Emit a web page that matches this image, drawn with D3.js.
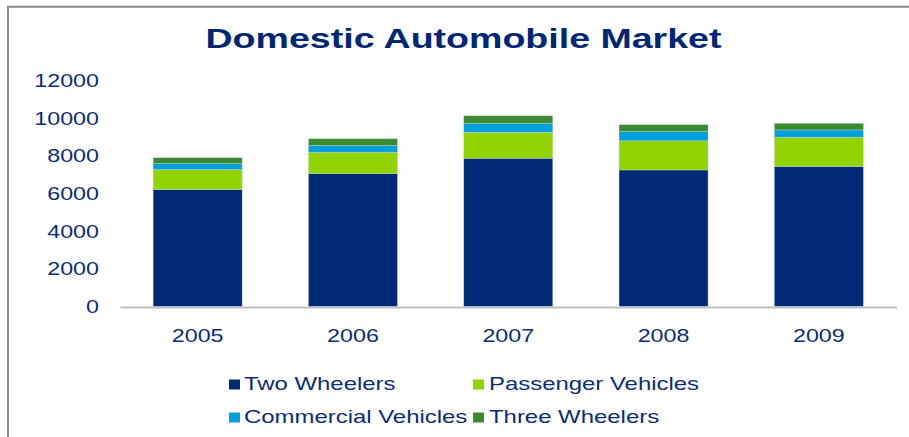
<!DOCTYPE html>
<html>
<head>
<meta charset="utf-8">
<script src="https://cdn.jsdelivr.net/npm/d3@7"></script>
<style>
  body { margin: 0; background: #fff; }
  svg { display: block; font-family: "Liberation Sans", Arial, sans-serif; }
</style>
</head>
<body>
<div id="chart"></div>
<script>
// data (thousand units)
const years = ["2005", "2006", "2007", "2008", "2009"];
const twoWheelers = [6210, 7052, 7872, 7249, 7438];
const passengerVehicles = [1062, 1143, 1380, 1550, 1553];
const commercialVehicles = [318, 351, 468, 490, 384];
const threeWheelers = [308, 360, 404, 365, 350];
const seriesNames = ["Two Wheelers", "Passenger Vehicles", "Commercial Vehicles", "Three Wheelers"];
const yTicks = [0, 2000, 4000, 6000, 8000, 10000, 12000];

const colors = ["#002A76", "#92D400", "#00A0DC", "#3B8A30"];
const textColor = "#0B2C7A";
const sx = 1.33; // text in the reference is drawn horizontally stretched

const width = 909, height = 437;

const svg = d3.select("#chart").append("svg")
    .attr("width", width)
    .attr("height", height);

// outer frame (top + left edges)
svg.append("path")
    .attr("d", `M8,${height} V6.7 H${width}`)
    .attr("fill", "none")
    .attr("stroke", "#8a8a8a")
    .attr("stroke-width", 2);

// title
svg.append("text")
    .attr("x", 463.5)
    .attr("y", 48)
    .attr("text-anchor", "middle")
    .attr("font-size", 27)
    .attr("font-weight", "bold")
    .attr("fill", "#002776")
    .attr("textLength", 516)
    .attr("lengthAdjust", "spacingAndGlyphs")
    .text("Domestic Automobile Market");

// scales
const x = d3.scaleBand()
    .domain(years)
    .range([120, 896.5])
    .paddingInner(0.427)
    .paddingOuter(0.2135);

const y = d3.scaleLinear()
    .domain([0, 12000])
    .range([306.5, 80.5]);

// stacked data
const rows = years.map((yr, i) => ({
    year: yr,
    "Two Wheelers": twoWheelers[i],
    "Passenger Vehicles": passengerVehicles[i],
    "Commercial Vehicles": commercialVehicles[i],
    "Three Wheelers": threeWheelers[i]
}));
const stacked = d3.stack().keys(seriesNames)(rows);

svg.append("g")
    .selectAll("g")
    .data(stacked)
    .join("g")
    .attr("fill", (d, i) => colors[i])
    .selectAll("rect")
    .data(d => d)
    .join("rect")
    .attr("x", d => x(d.data.year))
    .attr("y", d => y(d[1]))
    .attr("width", x.bandwidth())
    .attr("height", d => y(d[0]) - y(d[1]))
    .attr("stroke", "rgba(200,210,230,0.6)")
    .attr("stroke-width", 0.6);

// y axis (labels only)
const yAxis = svg.append("g")
    .attr("transform", "translate(120,0)")
    .call(d3.axisLeft(y).tickValues(yTicks).tickSize(0).tickFormat(d3.format("d")));
yAxis.select(".domain").remove();
yAxis.selectAll("text")
    .attr("x", -21 / sx)
    .attr("dy", "0.35em")
    .attr("transform", `scale(${sx},1)`)
    .attr("font-size", 17.5)
    .attr("font-family", "Liberation Sans, Arial, sans-serif")
    .attr("fill", textColor);

// x axis
const xAxis = svg.append("g")
    .attr("transform", "translate(0,307)")
    .call(d3.axisBottom(x).tickSize(0).tickSizeOuter(0));
xAxis.select(".domain")
    .attr("stroke", "#c0c0c0")
    .attr("stroke-width", 2);
xAxis.selectAll("text")
    .attr("x", 0)
    .attr("y", 35)
    .attr("dy", 0)
    .attr("transform", `scale(${sx},1)`)
    .attr("font-size", 17.5)
    .attr("font-family", "Liberation Sans, Arial, sans-serif")
    .attr("fill", textColor);

// legend
const legendPos = [
    {mx: 229, tx: 244, y: 390},
    {mx: 473, tx: 489, y: 390},
    {mx: 229, tx: 244, y: 423},
    {mx: 473, tx: 489, y: 423}
];
const legend = svg.append("g")
    .selectAll("g")
    .data(seriesNames)
    .join("g");

legend.append("rect")
    .attr("x", (d, i) => legendPos[i].mx)
    .attr("y", (d, i) => legendPos[i].y - 10.5)
    .attr("width", 11)
    .attr("height", 10)
    .attr("fill", (d, i) => colors[i]);

legend.append("text")
    .attr("transform", (d, i) => `translate(${legendPos[i].tx},${legendPos[i].y}) scale(${sx},1)`)
    .attr("font-size", 18)
    .attr("fill", textColor)
    .text(d => d);
</script>
</body>
</html>
